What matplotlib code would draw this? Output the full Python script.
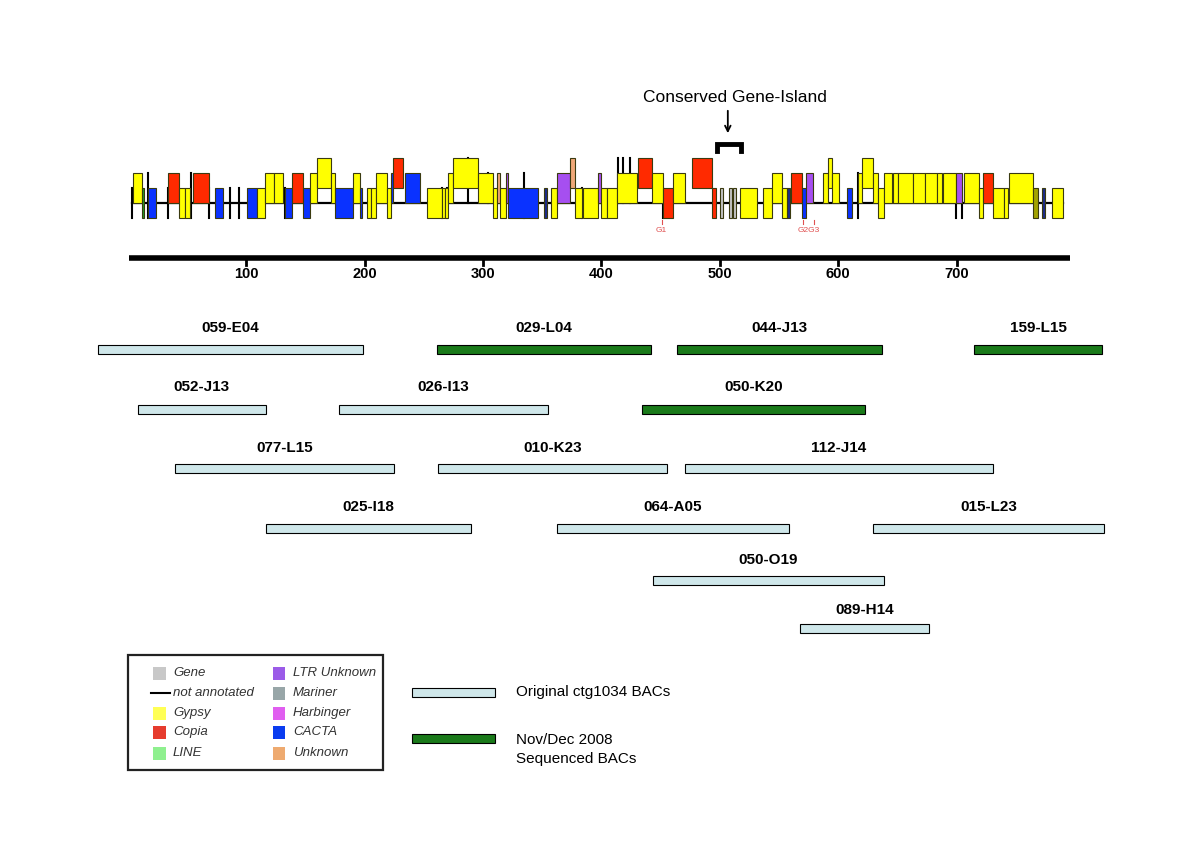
import matplotlib.pyplot as plt
from matplotlib.patches import Rectangle

plt.rcParams['font.family'] = ['Liberation Sans', 'DejaVu Sans']
narrow = ['Liberation Sans Narrow', 'Liberation Sans', 'DejaVu Sans']

# transposable elements along the contig (kb): start, end, tier, class
te_start = [4.6, 11.7, 16.8, 34.2, 43.2, 48.3, 55.3, 73.6, 100.4, 108.9, 115.9, 123.7,
            132.8, 138.9, 148.2, 153.9, 159.5, 171.6, 175.0, 190.5, 196.1, 201.8, 205.4,
            209.4, 218.7, 222.0, 224.2, 234.1, 252.4, 265.1,
            267.9, 270.2, 274.9, 296.0, 308.7, 311.6, 314.4, 319.2, 321.4, 351.8, 357.4,
            362.2, 373.4, 377.7, 384.7, 397.4, 399.4,
            404.5, 412.9, 431.2, 442.5, 452.3, 460.7, 476.8, 493.2, 500.2, 507.8, 511.2,
            516.7, 536.7,
            544.3, 552.8, 556.5, 559.9, 569.7, 572.6, 587.4, 591.1, 595.0, 607.2, 617.0,
            619.8, 629.6, 633.9, 639.0, 646.5, 650.8, 663.4,
            673.3, 683.7, 688.8, 699.2, 706.5, 718.9, 722.6, 731.0, 740.3, 744.3, 764.8,
            771.9, 780.3]
te_end = [11.7, 13.7, 23.6, 43.2, 48.3, 52.8, 68.6, 80.2, 108.9, 115.9, 123.7, 131.3,
          138.9, 148.2, 153.9, 159.5, 171.6, 175.0, 190.5, 196.1, 198.1, 205.4, 209.4,
          218.7, 222.0, 224.2, 232.7, 246.8, 265.1, 267.9,
          270.2, 274.9, 296.0, 308.7, 311.6, 314.4, 319.2, 321.4, 346.2, 353.8, 362.2,
          373.4, 377.7, 383.9, 397.4, 399.4, 404.5,
          412.9, 429.8, 442.5, 452.3, 460.7, 470.6, 493.2, 496.5, 503.0, 510.4, 514.0,
          531.2, 544.3,
          552.8, 556.5, 559.3, 569.7, 572.6, 579.0, 591.1, 595.0, 600.7, 611.9, 619.8,
          629.6, 633.9, 639.0, 645.2, 650.8, 663.4, 673.3,
          683.7, 687.4, 699.2, 704.3, 718.9, 722.6, 731.0, 740.3, 743.7, 764.8, 769.0,
          774.7, 790.1]
te_tier = [1, 0, 0, 1, 0, 0, 1, 0, 0, 0, 1, 1,
           0, 1, 0, 1, 2, 1, 0, 1, 0, 0, 0,
           1, 0, 1, 2, 1, 0, 0,
           0, 1, 2, 1, 0, 1, 0, 1, 0, 0, 0,
           1, 2, 0, 0, 1, 0,
           0, 1, 2, 1, 0, 1, 2, 0, 0, 0, 0,
           0, 0,
           1, 0, 0, 1, 0, 1, 1, 2, 1, 0, 1,
           2, 1, 0, 1, 1, 1, 1,
           1, 1, 1, 1, 1, 0, 1, 0, 0, 1, 0,
           0, 0]
te_class = ['Y', 'L', 'C', 'R', 'Y', 'Y', 'R', 'C', 'C', 'Y', 'Y', 'Y',
            'C', 'R', 'C', 'Y', 'Y', 'Y', 'C', 'Y', 'C', 'Y', 'Y',
            'Y', 'Y', 'C', 'R', 'C', 'Y', 'Y',
            'Y', 'Y', 'Y', 'Y', 'Y', 'U', 'Y', 'P', 'C', 'N', 'Y',
            'P', 'U', 'Y', 'Y', 'P', 'Y',
            'Y', 'Y', 'R', 'Y', 'R', 'Y', 'R', 'R', 'G', 'G', 'G',
            'Y', 'Y',
            'Y', 'Y', 'N', 'R', 'C', 'P', 'Y', 'Y', 'Y', 'C', 'Y',
            'Y', 'Y', 'Y', 'Y', 'Y', 'Y', 'Y',
            'Y', 'Y', 'Y', 'P', 'Y', 'Y', 'R', 'Y', 'Y', 'Y', 'O',
            'N', 'Y']

# unannotated boundary ticks: position (kb), bottom and top in tier units
mark_pos = [3.8, 16.8, 33.7, 53.1, 68.8, 86.6, 94.2, 132.8, 265.1, 269.5, 287.1, 304.0,
            334.6, 383.9, 414.3, 418.5, 424.2, 452.3, 617.0, 699.2, 704.8]
mark_lo = [-1, -1, -1, -1, -1, -1, -1, -1, -1, -1, 0, 0,
           -1, -1, 0, 0, 0, -1, -1, -1, -1]
mark_hi = [1, 2, 1, 2, 1, 1, 1, 1, 1, 1, 3, 2,
           2, 1, 3, 3, 3, 1, 2, 1, 1]

gene_pos = [451.0, 570.5, 579.8]
gene_lab = ['G1', 'G2', 'G3']

ruler_ticks = [100, 200, 300, 400, 500, 600, 700]

# BAC clones (kb), row, sequenced flag
bac_name = ['059-E04', '029-L04', '044-J13', '159-L15',
            '052-J13', '026-I13', '050-K20',
            '077-L15', '010-K23', '112-J14',
            '025-I18', '064-A05', '015-L23',
            '050-O19', '089-H14']
bac_start = [-25.2, 261.2, 463.8, 714.7, 8.6, 178.4, 434.3, 39.8, 262.0, 470.6,
             116.7, 362.5, 629.4, 443.6, 567.7]
bac_end = [198.6, 441.8, 636.9, 823.0, 116.7, 354.9, 622.6, 224.8, 455.4, 730.7,
           289.8, 558.5, 824.4, 638.7, 676.6]
bac_row = [0, 0, 0, 0, 1, 1, 1, 2, 2, 2, 3, 3, 3, 4, 5]
bac_new = [False, True, True, True, False, False, True, False, False, False,
           False, False, False, False, False]

legend_left = ['Gene', 'not annotated', 'Gypsy', 'Copia', 'LINE']
legend_right = ['LTR Unknown', 'Mariner', 'Harbinger', 'CACTA', 'Unknown']

track_col = {'Y': '#ffff00', 'R': '#ff2a00', 'C': '#0a32ff', 'L': '#22a022',
             'G': '#c4c4c4', 'P': '#a64ff0', 'U': '#f0a878', 'N': '#1c2c8c',
             'O': '#a3a300'}
leg_col = ['#c8c8c8', None, '#ffff55', '#e63c2e', '#8ff08f',
           '#9b5be8', '#98a6a8', '#e05ef0', '#0a3cf0', '#eeaa70']

fig = plt.figure(figsize=(12, 8.48), dpi=100)
ax = fig.add_axes([0, 0, 1, 1])
# x in kb, y in figure pixels (top down)
ax.set_xlim(-107.9, 905.6)
ax.set_ylim(848, 0)
ax.axis('off')

base_y, unit = 202.7, 15.0


def ty(u):
    return base_y - unit * u


# backbone line
ax.plot([3.8, 790.1], [base_y, base_y], color='black', lw=1.6, zorder=1)
for p, lo, hi in zip(mark_pos, mark_lo, mark_hi):
    ax.plot([p, p], [ty(lo), ty(hi)], color='black', lw=1.5, zorder=1)
for s, e, t, c in zip(te_start, te_end, te_tier, te_class):
    ax.add_patch(Rectangle((s, ty(t + 1)), e - s, 2 * unit, facecolor=track_col[c],
                           edgecolor='#3a3a10', lw=0.8, zorder=2))

for p in gene_pos:
    ax.plot([p, p], [219.5, 223.5], color='#e05050', lw=0.8)
ax.text(gene_pos[0], 230, gene_lab[0], color='#e05050', fontsize=6, ha='center', va='center')
ax.text((gene_pos[1] + gene_pos[2]) / 2, 230, gene_lab[1] + gene_lab[2], color='#e05050',
        fontsize=6, ha='center', va='center')

# conserved gene island
ax.text(512.5, 97, 'Conserved Gene-Island', fontsize=12.5, ha='center', va='center')
ax.annotate('', xy=(506.8, 136), xytext=(506.8, 108),
            arrowprops=dict(arrowstyle='->', color='black', lw=1.3))
ax.plot([497.6, 497.6, 518.0, 518.0], [151, 144, 144, 151], color='black', lw=3.5,
        solid_joinstyle='miter')

# ruler
ax.plot([1, 796], [258, 258], color='black', lw=4, solid_capstyle='butt')
for t in ruler_ticks:
    ax.plot([t, t], [258, 265], color='black', lw=2)
    ax.text(t, 274, str(t), fontsize=10.5, fontweight='bold', ha='center', va='center',
            family=narrow)

# BAC tiling
row_bar = [349, 409, 468, 528, 580, 628]
row_lab = [328, 387, 448, 507, 560, 610]
for n, s, e, r, new in zip(bac_name, bac_start, bac_end, bac_row, bac_new):
    fc = '#1a7a1a' if new else '#cfe7ea'
    ax.add_patch(Rectangle((s, row_bar[r] - 4.5), e - s, 9, facecolor=fc,
                           edgecolor='black', lw=0.8))
    ax.text((s + e) / 2, row_lab[r], n, fontsize=11, fontweight='bold', ha='center',
            va='center', family=narrow)

# colour key
ax.add_patch(Rectangle((-0.2, 655), 215.4, 115, facecolor='white', edgecolor='#222222',
                       lw=1.6))
rows_y = [673, 693, 713, 732, 753]
for i, y in enumerate(rows_y):
    if leg_col[i] is None:
        ax.plot([19.5, 36.0], [y, y], color='black', lw=1.5)
    else:
        ax.add_patch(Rectangle((21.4, y - 6.5), 10.5, 13, facecolor=leg_col[i], lw=0))
    ax.text(38.2, y, legend_left[i], fontsize=9.5, style='italic', va='center',
            color='#333333')
    ax.add_patch(Rectangle((122.6, y - 6.5), 10.5, 13, facecolor=leg_col[i + 5], lw=0))
    ax.text(139.5, y, legend_right[i], fontsize=9.5, style='italic', va='center',
            color='#333333')

# BAC key
ax.add_patch(Rectangle((240, 687.5), 70, 9, facecolor='#cfe7ea', edgecolor='black', lw=0.8))
ax.text(327.9, 692, 'Original ctg1034 BACs', fontsize=11, va='center')
ax.add_patch(Rectangle((240, 733.5), 70, 9, facecolor='#1a7a1a', edgecolor='black', lw=0.8))
ax.text(327.9, 740, 'Nov/Dec 2008', fontsize=11, va='center')
ax.text(327.9, 759, 'Sequenced BACs', fontsize=11, va='center')

fig.savefig('out.png', dpi=100)
